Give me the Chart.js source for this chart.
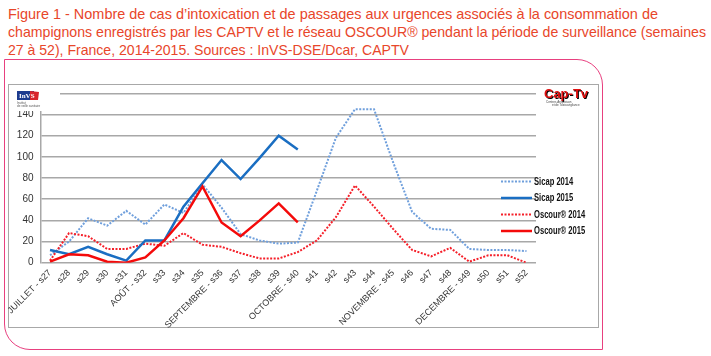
<!DOCTYPE html>
<html>
<head>
<meta charset="utf-8">
<script src="https://cdn.jsdelivr.net/npm/chart.js@4.4.1/dist/chart.umd.min.js"></script>
<style>
  html, body { margin:0; padding:0; background:#fff; }
  body { width:711px; height:356px; position:relative; overflow:hidden; }
  #title { position:absolute; left:8px; top:5px; font-family:"Liberation Sans", Arial, sans-serif; font-size:15px; line-height:18px; color:#e8462a; white-space:nowrap; }
  #title div { transform-origin:left center; display:block; width:max-content; }
  #outer { position:absolute; left:4px; top:59px; width:597px; height:289px; border:1.5px solid #e8407f; border-radius:0 26px 0 26px; }
  #inner { position:absolute; left:8px; top:84px; width:589px; height:242px; border:1.5px solid #a8a8a8; }
  #c { position:absolute; left:0; top:0; }
</style>
</head>
<body>
<div id="title">
  <div>Figure 1 - Nombre de cas d’intoxication et de passages aux urgences associés à la consommation de</div>
  <div>champignons enregistrés par les CAPTV et le réseau OSCOUR® pendant la période de surveillance (semaines</div>
  <div>27 à 52), France, 2014-2015. Sources : InVS-DSE/Dcar, CAPTV</div>
</div>
<div id="outer"></div>
<div id="inner"></div>
<canvas id="c" width="711" height="356"></canvas>
<script>
// ---- data ----
const categories = ["JUILLET - s27","s28","s29","s30","s31","AOÛT - s32","s33","s34","s35","SEPTEMBRE - s36","s37","s38","s39","OCTOBRE - s40","s41","s42","s43","s44","NOVEMBRE - s45","s46","s47","s48","DECEMBRE - s49","s50","s51","s52"];
const sicap2014  = [7,20,42,35,49,36,55,47,74,52,27,21,18,19,68,118,145,145,95,48,32,31,13,12,12,11];
const sicap2015  = [12,8,15,8,2,21,21,53,75,97,79,99,120,107,null,null,null,null,null,null,null,null,null,null,null,null];
const oscour2014 = [2,28,25,13,13,18,16,28,17,15,9,4,4,10,21,43,73,53,32,12,6,14,1,7,7,0];
const oscour2015 = [1,8,7,1,0,5,21,42,72,38,25,40,56,38,null,null,null,null,null,null,null,null,null,null,null,null];
const seriesNames = ["Sicap 2014","Sicap 2015","Oscour® 2014","Oscour® 2015"];
const yTicks = [0,20,40,60,80,100,120,140,160];

// fit title lines
(function(){
  const lines = document.querySelectorAll('#title div');
  const targets = [650, 698, 401];
  lines.forEach((el,i)=>{
    const w = el.getBoundingClientRect().width;
    el.style.transform = 'scaleX(' + (targets[i]/w).toFixed(4) + ')';
  });
})();

const legendPlugin = {
  id: 'customLegend',
  afterDraw(chart) {
    const ctx = chart.ctx;
    ctx.save();
    // InVS logo (white box hides top-left)
    ctx.fillStyle = '#fff';
    ctx.fillRect(10, 87, 50, 24);
    ctx.fillStyle = '#1d3c8f';
    ctx.fillRect(17, 91, 17, 9);
    ctx.fillStyle = '#d8232a';
    ctx.beginPath(); ctx.moveTo(30,91); ctx.lineTo(39,92); ctx.lineTo(38,100); ctx.lineTo(30,100); ctx.closePath(); ctx.fill();
    ctx.fillStyle = '#fff';
    ctx.font = 'bold 7px "Liberation Serif", serif';
    ctx.textBaseline = 'middle'; ctx.textAlign = 'left';
    ctx.fillText('InVS', 19, 96);
    ctx.fillStyle = '#555';
    ctx.font = '3px "Liberation Sans", sans-serif';
    ctx.fillText('Institut', 17, 103);
    ctx.fillText('de veille sanitaire', 17, 106);
    // Cap-Tv logo
    ctx.font = 'bold 13px "Liberation Sans", sans-serif';
    ctx.textBaseline = 'alphabetic';
    ctx.fillStyle = '#000';
    ctx.fillText('Cap-Tv', 545, 99);
    ctx.fillStyle = '#e01010';
    ctx.fillText('Cap-Tv', 544, 98);
    ctx.fillStyle = '#444';
    ctx.font = '3px "Liberation Sans", sans-serif';
    ctx.fillText('Centres Antipoison', 546, 103);
    ctx.fillText('et de Toxicovigilance', 552, 106);
    // legend
    const ys = [181.5, 198, 214.5, 231];
    chart.data.datasets.forEach((ds, i) => {
      const y = ys[i];
      ctx.strokeStyle = ds.borderColor;
      ctx.lineWidth = ds.borderWidth;
      ctx.setLineDash(ds.borderDash || []);
      ctx.beginPath(); ctx.moveTo(501, y); ctx.lineTo(532, y); ctx.stroke();
      ctx.setLineDash([]);
      ctx.fillStyle = '#111';
      ctx.font = 'bold 10px "Liberation Sans", sans-serif';
      ctx.textBaseline = 'middle'; ctx.textAlign = 'left';
      ctx.save();
      ctx.translate(534, y + 0.5);
      ctx.scale(0.76, 1);
      ctx.fillText(ds.label, 0, 0);
      ctx.restore();
    });
    ctx.restore();
  }
};

new Chart(document.getElementById('c'), {
  type: 'line',
  data: {
    labels: categories,
    datasets: [
      { label: seriesNames[0], data: sicap2014, borderColor: '#6f9fdc', borderWidth: 2, borderDash: [2,1.5], order: 4 },
      { label: seriesNames[1], data: sicap2015, borderColor: '#1a6ec2', borderWidth: 2.5, order: 2 },
      { label: seriesNames[2], data: oscour2014, borderColor: '#f5202a', borderWidth: 2, borderDash: [2,1.5], order: 3 },
      { label: seriesNames[3], data: oscour2015, borderColor: '#f40a0a', borderWidth: 2.5, order: 1 }
    ].map(d => Object.assign({ pointRadius: 0, pointHoverRadius: 0, tension: 0, fill: false, spanGaps: false, borderCapStyle: 'butt' }, d))
  },
  options: {
    responsive: false,
    animation: false,
    devicePixelRatio: 1,
    layout: { padding: { left: 0, top: 93.3, right: 175, bottom: 0 } },
    plugins: { legend: { display: false }, tooltip: { enabled: false }, title: { display: false } },
    scales: {
      x: {
        type: 'category',
        offset: true,
        grid: { display: false, drawTicks: false },
        border: { display: false },
        ticks: { autoSkip: false, maxRotation: 45, minRotation: 45, padding: 5, color: '#333', font: { family: '"Liberation Sans", Arial, sans-serif', size: 9 } },
        afterFit(scale) { scale.height = 93.3; }
      },
      y: {
        min: 0, max: 160,
        afterBuildTicks(scale) { scale.ticks = yTicks.map(v => ({ value: v })); },
        grid: { color: '#a8a8a8', lineWidth: 1.5, drawTicks: false },
        border: { display: true, color: '#a8a8a8', width: 1.5 },
        ticks: { padding: 7, color: '#333', font: { family: '"Liberation Sans", Arial, sans-serif', size: 10 }, callback: v => v === 160 ? '' : v },
        afterFit(scale) { scale.width = 40.5; }
      }
    }
  },
  plugins: [legendPlugin]
});
</script>
</body>
</html>
